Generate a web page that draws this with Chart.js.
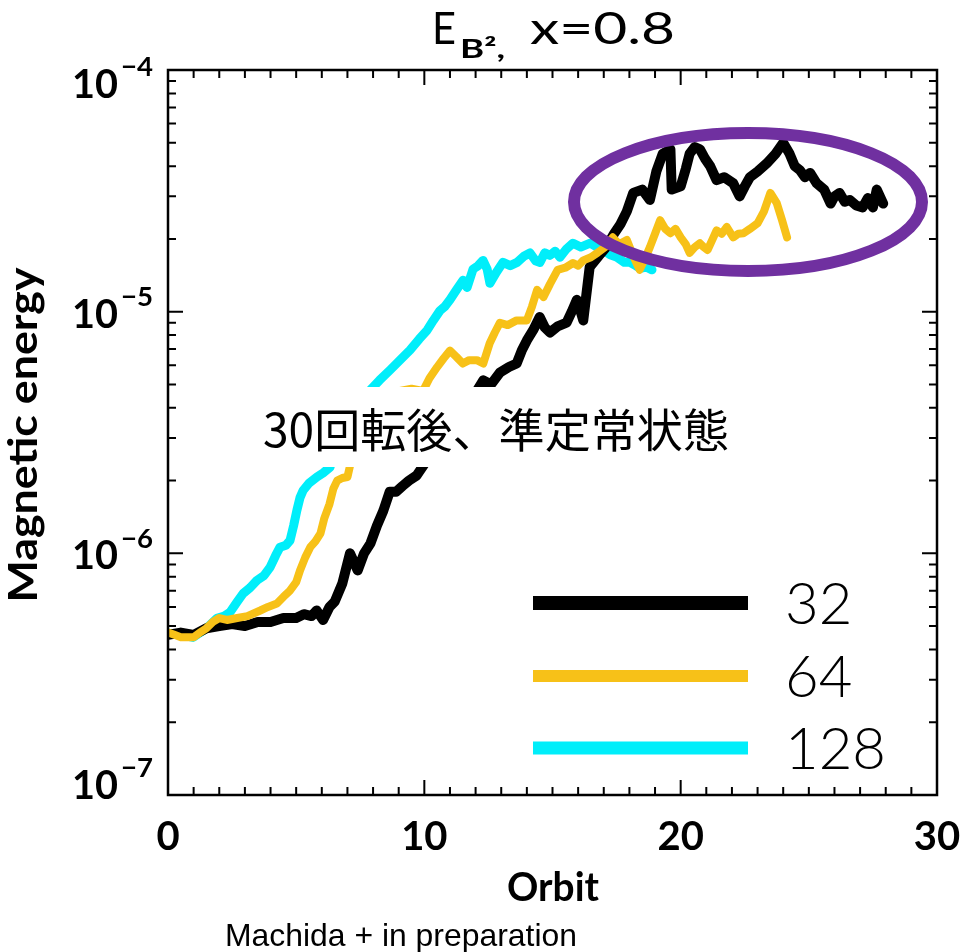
<!DOCTYPE html>
<html>
<head>
<meta charset="utf-8">
<script src="https://cdn.jsdelivr.net/npm/chart.js@4.4.1/dist/chart.umd.min.js"></script>
<style>
html, body { margin: 0; padding: 0; background: #fff; }
#wrap { width: 967px; height: 952px; }
</style>
</head>
<body>
<div id="wrap"><canvas id="chart" width="967" height="952"></canvas></div>
<script>
// resolution 32
var orbit32 = [0, 0.5, 1.0, 1.5, 2.0, 2.5, 3.0, 3.5, 4.0, 4.5, 5.0, 5.3, 5.6, 5.8, 6.05, 6.3, 6.5, 6.8, 7.1, 7.4, 7.65, 7.9, 8.15, 8.4, 8.65, 8.9, 9.15, 9.4, 9.7, 9.95, 10.4, 10.8, 11.4, 11.75, 12.05, 12.3, 12.6, 12.95, 13.3, 13.6, 13.8, 14.0, 14.25, 14.5, 14.7, 14.9, 15.2, 15.55, 15.75, 15.95, 16.1, 16.2, 16.45, 16.8, 17.1, 17.4, 17.65, 17.9, 18.15, 18.5, 18.8, 19.05, 19.3, 19.6, 19.65, 20.0, 20.2, 20.35, 20.55, 20.75, 20.95, 21.15, 21.4, 21.7, 22.05, 22.3, 22.5, 22.7, 23.0, 23.35, 23.7, 24.0, 24.25, 24.45, 24.65, 24.85, 25.05, 25.3, 25.6, 25.85, 26.0, 26.2, 26.4, 26.6, 26.85, 27.1, 27.3, 27.5, 27.65, 27.9]
var energy32 = [4.6e-7, 4.7e-7, 4.6e-7, 4.9e-7, 5.0e-7, 5.1e-7, 5.0e-7, 5.2e-7, 5.2e-7, 5.4e-7, 5.4e-7, 5.6e-7, 5.5e-7, 5.8e-7, 5.3e-7, 6.0e-7, 6.3e-7, 7.5e-7, 1.0e-6, 8.5e-7, 1.0e-6, 1.1e-6, 1.3e-6, 1.5e-6, 1.8e-6, 1.8e-6, 1.9e-6, 2.0e-6, 2.1e-6, 2.3e-6, 2.7e-6, 3.2e-6, 4.1e-6, 4.5e-6, 4.7e-6, 5.2e-6, 5.0e-6, 5.6e-6, 5.9e-6, 6.1e-6, 6.9e-6, 7.6e-6, 8.4e-6, 9.5e-6, 8.6e-6, 8.2e-6, 8.7e-6, 9.0e-6, 1.0e-5, 1.12e-5, 1.0e-5, 9.2e-6, 1.53e-5, 1.7e-5, 1.85e-5, 2.1e-5, 2.3e-5, 2.6e-5, 3.1e-5, 3.2e-5, 2.9e-5, 3.8e-5, 4.5e-5, 4.7e-5, 3.2e-5, 3.3e-5, 3.9e-5, 4.5e-5, 4.8e-5, 4.7e-5, 4.3e-5, 4.0e-5, 3.5e-5, 3.6e-5, 3.4e-5, 3.0e-5, 3.3e-5, 3.6e-5, 3.8e-5, 4.1e-5, 4.5e-5, 5.0e-5, 4.5e-5, 4.0e-5, 3.85e-5, 3.6e-5, 3.75e-5, 3.4e-5, 3.2e-5, 2.8e-5, 3.0e-5, 3.1e-5, 2.85e-5, 2.9e-5, 2.75e-5, 2.7e-5, 2.95e-5, 2.7e-5, 3.2e-5, 2.8e-5]

// resolution 64
var orbit64 = [0, 0.25, 0.5, 0.75, 1.0, 1.25, 1.5, 1.75, 2.0, 2.3, 2.7, 3.1, 3.6, 3.9, 4.25, 4.5, 4.75, 5.0, 5.15, 5.35, 5.55, 5.75, 5.95, 6.1, 6.3, 6.45, 6.6, 6.8, 7.0, 7.1, 8.1, 9.05, 9.5, 9.95, 10.2, 10.5, 10.75, 11.0, 11.25, 11.5, 11.75, 12.05, 12.3, 12.55, 12.75, 12.95, 13.25, 13.6, 14.0, 14.2, 14.4, 14.65, 14.9, 15.2, 15.5, 15.8, 16.0, 16.2, 16.5, 16.75, 17.05, 17.35, 17.6, 17.9, 18.15, 18.4, 18.6, 18.8, 19.0, 19.2, 19.4, 19.6, 19.8, 20.0, 20.2, 20.35, 20.55, 20.75, 20.9, 21.05, 21.25, 21.4, 21.6, 21.8, 22.05, 22.25, 22.45, 22.7, 23.0, 23.25, 23.5, 23.75, 23.95, 24.15]
var energy64 = [4.7e-7, 4.6e-7, 4.5e-7, 4.5e-7, 4.5e-7, 4.7e-7, 4.9e-7, 5.2e-7, 5.4e-7, 5.3e-7, 5.4e-7, 5.5e-7, 5.8e-7, 6.0e-7, 6.2e-7, 6.6e-7, 7.0e-7, 7.6e-7, 8.5e-7, 9.6e-7, 1.06e-6, 1.12e-6, 1.21e-6, 1.4e-6, 1.6e-6, 1.85e-6, 2.0e-6, 2.05e-6, 2.07e-6, 2.3e-6, 3.6e-6, 4.7e-6, 4.8e-6, 4.7e-6, 5.3e-6, 5.9e-6, 6.4e-6, 6.9e-6, 6.5e-6, 6.1e-6, 6.3e-6, 6.3e-6, 6.1e-6, 7.4e-6, 8.2e-6, 9.0e-6, 8.8e-6, 9.2e-6, 9.2e-6, 1.05e-5, 1.23e-5, 1.15e-5, 1.3e-5, 1.49e-5, 1.52e-5, 1.59e-5, 1.55e-5, 1.63e-5, 1.68e-5, 1.75e-5, 1.85e-5, 2.03e-5, 1.9e-5, 1.98e-5, 1.7e-5, 1.49e-5, 1.65e-5, 1.85e-5, 2.1e-5, 2.39e-5, 2.2e-5, 2.11e-5, 2.2e-5, 2.03e-5, 1.9e-5, 1.75e-5, 1.85e-5, 1.92e-5, 1.85e-5, 1.8e-5, 2.0e-5, 2.17e-5, 2.1e-5, 2.24e-5, 2.03e-5, 2.1e-5, 2.11e-5, 2.2e-5, 2.32e-5, 2.6e-5, 3.1e-5, 2.81e-5, 2.4e-5, 2.03e-5]

// resolution 128
var orbit128 = [0, 0.5, 0.98, 1.5, 1.91, 2.2, 2.42, 2.7, 2.93, 3.2, 3.47, 3.75, 3.98, 4.2, 4.37, 4.6, 4.76, 4.9, 5.03, 5.15, 5.27, 5.5, 5.81, 6.05, 6.32, 7.1, 7.5, 7.88, 8.25, 8.66, 9.05, 9.44, 9.8, 10.11, 10.35, 10.61, 10.8, 11.0, 11.25, 11.51, 11.67, 11.9, 12.1, 12.29, 12.45, 12.56, 12.8, 13.07, 13.35, 13.62, 13.9, 14.12, 14.35, 14.51, 14.7, 14.9, 15.1, 15.29, 15.55, 15.8, 16.1, 16.47, 16.7, 16.97, 17.25, 17.52, 17.8, 18.02, 18.25, 18.42, 18.65, 18.88]
var energy128 = [4.67e-7, 4.6e-7, 4.49e-7, 4.9e-7, 5.38e-7, 5.5e-7, 5.7e-7, 6.3e-7, 6.82e-7, 7.2e-7, 7.73e-7, 8.1e-7, 8.75e-7, 9.8e-7, 1.06e-6, 1.08e-6, 1.13e-6, 1.3e-6, 1.51e-6, 1.7e-6, 1.82e-6, 1.95e-6, 2.07e-6, 2.15e-6, 2.27e-6, 4.3e-6, 4.4e-6, 4.73e-6, 5.2e-6, 5.73e-6, 6.3e-6, 6.93e-6, 7.7e-6, 8.38e-6, 9.2e-6, 1.01e-5, 1.05e-5, 1.12e-5, 1.23e-5, 1.35e-5, 1.26e-5, 1.5e-5, 1.55e-5, 1.63e-5, 1.5e-5, 1.31e-5, 1.45e-5, 1.6e-5, 1.55e-5, 1.6e-5, 1.7e-5, 1.75e-5, 1.62e-5, 1.6e-5, 1.75e-5, 1.71e-5, 1.78e-5, 1.68e-5, 1.82e-5, 1.92e-5, 1.85e-5, 1.92e-5, 1.86e-5, 1.8e-5, 1.72e-5, 1.68e-5, 1.6e-5, 1.6e-5, 1.55e-5, 1.51e-5, 1.53e-5, 1.49e-5]

var seriesNames = ['32', '64', '128']
var seriesColors = ['#000000', '#f7c118', '#00eefa']
var xTickValues = [0, 10, 20, 30]
var yDecades = [-7, -6, -5, -4]
var noteText = '30回転後、準定常状態'

function toPoints (xs, ys) {
  var pts = []
  for (var i = 0; i < xs.length; i++) pts.push({x: xs[i], y: ys[i]})
  return pts
}

// draw text squeezed/stretched to a given width
function fitText (ctx, text, x, y, width, align) {
  var w = ctx.measureText(text).width
  var s = width ? width / w : 1
  ctx.save()
  ctx.translate(x, y)
  ctx.scale(s, 1)
  var dx = 0
  if (align === 'center') dx = -w / 2
  if (align === 'right') dx = -w
  ctx.textAlign = 'left'
  ctx.fillText(text, dx, 0)
  ctx.restore()
}

// label nudges so the end labels stay inside the frame, like the original
function labelShift (e) {
  if (e === -4) return 15
  if (e === -7) return -9
  return 3
}

var framePlugin = {
  id: 'frame',
  afterDatasetsDraw: function (chart) {
    var ctx = chart.ctx
    var a = chart.chartArea
    var xs = chart.scales.x
    var ys = chart.scales.y

    // note box
    ctx.save()
    ctx.fillStyle = '#ffffff'
    ctx.fillRect(245, 387, 500, 80)
    ctx.fillStyle = '#000'
    ctx.font = '46px "Noto Sans CJK JP"'
    ctx.textBaseline = 'middle'
    fitText(ctx, noteText, 263, 430, 466, 'left')
    ctx.restore()

    // ellipse
    ctx.save()
    ctx.strokeStyle = '#7030a0'
    ctx.lineWidth = 12
    ctx.beginPath()
    ctx.ellipse(748, 202, 174, 69, 0, 0, Math.PI * 2)
    ctx.stroke()
    ctx.restore()

    // frame and ticks
    ctx.save()
    ctx.strokeStyle = '#000'
    ctx.lineWidth = 2.5
    ctx.strokeRect(a.left, a.top, a.right - a.left, a.bottom - a.top)
    ctx.lineWidth = 2
    ctx.beginPath()
    for (var t = 0; t <= 30; t++) {
      var px = xs.getPixelForValue(t)
      var len = t % 10 === 0 ? 15 : 8
      ctx.moveTo(px, a.bottom); ctx.lineTo(px, a.bottom - len)
      ctx.moveTo(px, a.top); ctx.lineTo(px, a.top + len)
    }
    for (var e = -7; e < -4; e++) {
      for (var m = 1; m <= 9; m++) {
        var py = ys.getPixelForValue(m * Math.pow(10, e))
        var l2 = m === 1 ? 15 : 8
        ctx.moveTo(a.left, py); ctx.lineTo(a.left + l2, py)
        ctx.moveTo(a.right, py); ctx.lineTo(a.right - l2, py)
      }
    }
    ctx.stroke()
    ctx.restore()

    // legend
    ctx.save()
    var legY = [603, 676, 748]
    var legW = [14, 12, 13]
    for (var i = 0; i < seriesNames.length; i++) {
      ctx.fillStyle = seriesColors[i]
      ctx.fillRect(533, legY[i] - legW[i] / 2, 215, legW[i])
      ctx.fillStyle = '#000'
      ctx.font = '300 58px Lato'
      ctx.textBaseline = 'middle'
      ctx.fillText(seriesNames[i], 785, legY[i] + 2)
    }
    ctx.restore()

    // tick labels
    ctx.save()
    ctx.fillStyle = '#000'
    ctx.textBaseline = 'middle'
    ctx.font = 'bold 40px Lato'
    for (var k = 0; k < xTickValues.length; k++) {
      fitText(ctx, String(xTickValues[k]), xs.getPixelForValue(xTickValues[k]), 837, null, 'center')
    }
    for (var d = 0; d < yDecades.length; d++) {
      var yy = ys.getPixelForValue(Math.pow(10, yDecades[d])) + labelShift(yDecades[d])
      ctx.font = 'bold 40px Lato'
      fitText(ctx, '10', 118, yy, 46, 'right')
      ctx.font = 'bold 26px Lato'
      fitText(ctx, '−' + String(-yDecades[d]), 121, yy - 17, 32, 'left')
    }

    // axis titles
    ctx.font = 'bold 40px Lato'
    fitText(ctx, 'Orbit', 553, 888, 92, 'center')
    ctx.save()
    ctx.translate(24, 435)
    ctx.rotate(-Math.PI / 2)
    fitText(ctx, 'Magnetic energy', 0, 0, 335, 'center')
    ctx.restore()

    // title
    ctx.font = '44px Lato'
    fitText(ctx, 'E', 432, 30, 24, 'left')
    ctx.font = 'bold 26px Lato'
    fitText(ctx, 'B²,', 460, 50, 45, 'left')
    ctx.font = '44px Lato'
    fitText(ctx, 'x=0.8', 530, 30, 145, 'left')

    // caption
    ctx.font = '32px "Liberation Sans"'
    fitText(ctx, 'Machida + in preparation', 225, 937, 352, 'left')
    ctx.restore()
  }
}

var ctx = document.getElementById('chart').getContext('2d')
var chart = new Chart(ctx, {
  type: 'line',
  data: {
    datasets: [
      {label: seriesNames[0], data: toPoints(orbit32, energy32), borderColor: seriesColors[0], borderWidth: 10, order: 1},
      {label: seriesNames[1], data: toPoints(orbit64, energy64), borderColor: seriesColors[1], borderWidth: 8, order: 0},
      {label: seriesNames[2], data: toPoints(orbit128, energy128), borderColor: seriesColors[2], borderWidth: 9, order: 2}
    ]
  },
  options: {
    responsive: false,
    animation: false,
    layout: {padding: {top: 70, right: 30, left: 0, bottom: 0}},
    elements: {
      point: {radius: 0},
      line: {tension: 0, borderJoinStyle: 'round', borderCapStyle: 'round', fill: false}
    },
    scales: {
      x: {
        type: 'linear', min: 0, max: 30,
        ticks: {display: false}, grid: {display: false}, border: {display: false},
        afterFit: function (s) { s.height = 157 }
      },
      y: {
        type: 'logarithmic', min: 1e-7, max: 1e-4,
        ticks: {display: false}, grid: {display: false}, border: {display: false},
        afterFit: function (s) { s.width = 168 }
      }
    },
    plugins: {legend: {display: false}, title: {display: false}, tooltip: {enabled: false}}
  },
  plugins: [framePlugin]
})
</script>
</body>
</html>
